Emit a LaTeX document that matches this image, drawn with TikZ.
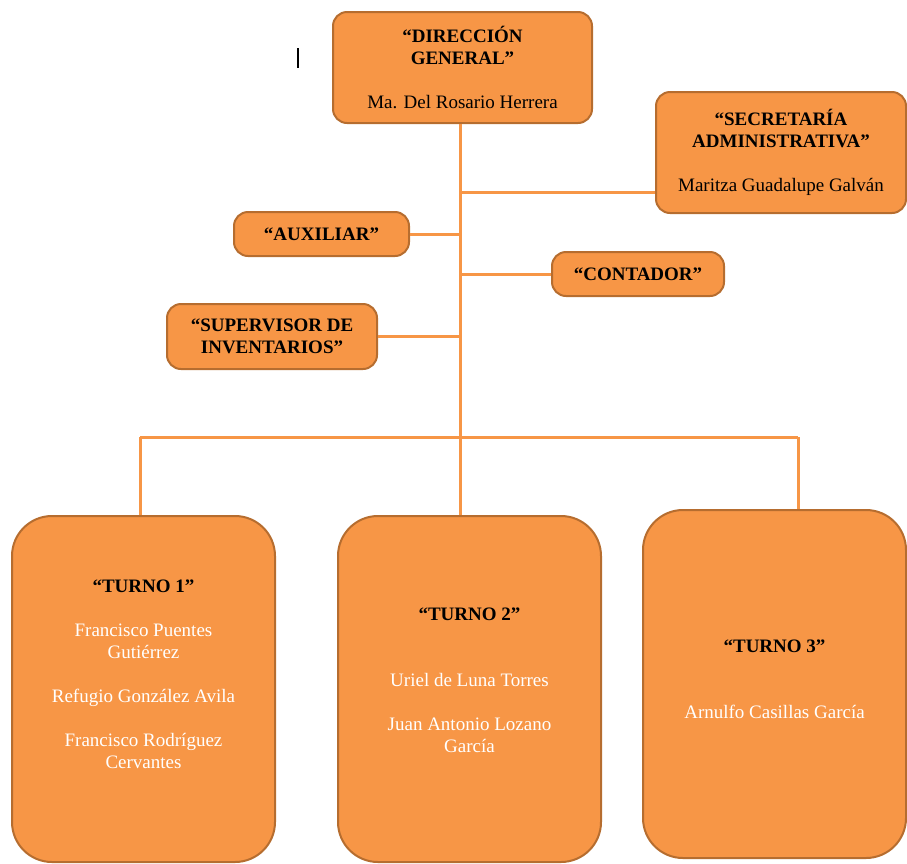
\documentclass[tikz,border=0pt]{standalone}
\usepackage{fontspec}
\setmainfont{Liberation Serif}
\definecolor{naranja}{HTML}{F79646}
\definecolor{borde}{HTML}{B66D2F}
\begin{document}
\begin{tikzpicture}[x=1pt,y=-1pt,
	caja/.style={draw=borde, line width=2pt, fill=naranja, rounded corners=14pt, align=center, inner sep=0pt, font=\fontsize{19}{22}\selectfont},
	turno/.style={caja, rounded corners=40pt, minimum width=263pt},
	texto/.style={align=center, text=white, font=\fontsize{19}{22}\selectfont},
	linea/.style={draw=naranja, line width=3pt}]
	\useasboundingbox (0,0) rectangle (907,863);
	% cajas superiores
	\node[caja, minimum width=259pt, minimum height=111pt] (dir) at (462.5,67.5) {\textbf{“DIRECCIÓN}\\ \textbf{GENERAL”}\\[22pt] Ma. Del Rosario Herrera};
	\node[caja, minimum width=250pt, minimum height=121pt] (sec) at (781,152.5) {\textbf{“SECRETARÍA}\\ \textbf{ADMINISTRATIVA”}\\[22pt] Maritza Guadalupe Galván};
	\node[caja, minimum width=175pt, minimum height=44pt] (aux) at (321.5,234) {\textbf{“AUXILIAR”}};
	\node[caja, minimum width=172pt, minimum height=44pt] (cont) at (638,274) {\textbf{“CONTADOR”}};
	\node[caja, minimum width=210pt, minimum height=65pt] (sup) at (272,336.5) {\textbf{“SUPERVISOR DE}\\ \textbf{INVENTARIOS”}};
	% turnos
	\node[turno, minimum height=346pt] (t1) at (143.5,689) {};
	\node[turno, minimum height=346pt] (t2) at (469.5,689) {};
	\node[turno, minimum height=348pt] (t3) at (774.5,684) {};
	\node[texto] (t1txt) at ([yshift=15pt]t1.center) {\textcolor{black}{\textbf{“TURNO 1”}}\\[22pt] Francisco Puentes\\ Gutiérrez\\[22pt] Refugio González Avila\\[22pt] Francisco Rodríguez\\ Cervantes};
	\node[texto] (t2txt) at ([yshift=9pt]t2.center) {\textcolor{black}{\textbf{“TURNO 2”}}\\[44pt] Uriel de Luna Torres\\[22pt] Juan Antonio Lozano\\ García};
	\node[texto] (t3txt) at ([yshift=5pt]t3.center) {\textcolor{black}{\textbf{“TURNO 3”}}\\[44pt] Arnulfo Casillas García};
	% lineas
	\coordinate (b1) at (140,437);
	\coordinate (b2) at (460,437);
	\coordinate (b3) at (798,437);
	\coordinate (jsec) at ([yshift=-40pt]sec.west);
	\draw[linea] (dir.south -| b2) -- (b2);
	\draw[linea] (b1) -- (b3);
	\foreach \b/\t in {b1/t1,b2/t2,b3/t3}
		\draw[linea] (\b) -- (\b |- \t.north);
	\draw[linea] (jsec) -- (jsec -| b2);
	\draw[linea] (aux.east) -- (aux.east -| b2);
	\draw[linea] (cont.west) -- (cont.west -| b2);
	\draw[linea] (sup.east) -- (sup.east -| b2);
	\draw[line width=1.5pt] (298,48) -- (298,68);
\end{tikzpicture}
\end{document}
